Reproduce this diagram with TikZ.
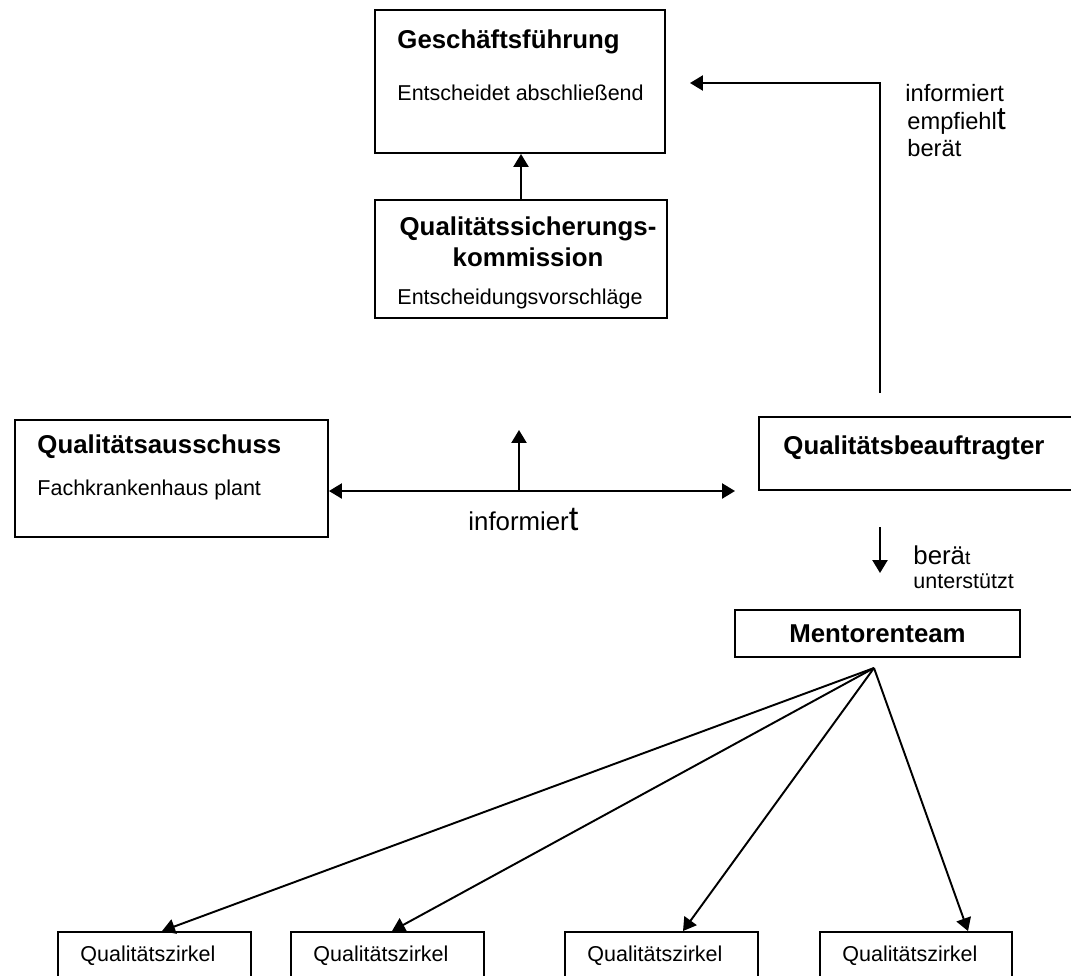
\documentclass[tikz,border=0pt]{standalone}
\usepackage{fontspec}
\setmainfont{Liberation Sans}
\usetikzlibrary{arrows.meta,fit}

\begin{document}
\begin{tikzpicture}
	[x=0.465pt,y=-0.465pt,
	 box/.style={draw,line width=0.9pt,inner sep=0pt},
	 head/.style={font=\fontsize{12}{14.4}\selectfont\bfseries,inner sep=0pt},
	 txt/.style={font=\fontsize{10}{12}\selectfont,inner sep=0pt,anchor=base west},
	 lbl/.style={font=\fontsize{11}{13}\selectfont,inner sep=0pt,anchor=base west},
	 arr/.style={line width=0.9pt,-{Triangle[length=6pt,width=7pt]}},
	 darr/.style={line width=0.9pt,{Triangle[length=6pt,width=7pt]}-{Triangle[length=6pt,width=7pt]}}]
\useasboundingbox (0,0) rectangle (1071,975);
% Leitung
\node[box,fit={(375,10) (665,153)}] (gf) {};
\node[head,anchor=base west] (gfh) at (397,48) {Geschäftsführung};
\node[txt] (gft) at (397,100) {Entscheidet abschließend};
\node[box,fit={(375,200) (667,318)}] (qsk) {};
\node[head,align=center,anchor=north] (qskh) at (528,216) {Qualitätssicherungs-\\kommission};
\node[txt] (qskt) at (397,304) {Entscheidungsvorschläge};
\draw[arr] (qsk.north) -- (qsk.north |- gf.south);
% Beauftragter
\node[box,fit={(759,417) (1075,490)}] (qb) {};
\node[head,anchor=base west] (qbh) at (783,454) {Qualitätsbeauftragter};
\coordinate (qbup) at (880,393);
\coordinate (gfin) at (690,83);
\draw[arr] (qbup) |- (gfin);
\node[lbl] (inf1) at (905,101) {informiert};
\node[lbl] (empf) at (907,129) {empfiehl{\fontsize{15}{15}\selectfont t}};
\node[lbl] (ber1) at (907,156) {berät};
% Ausschuss
\node[box,fit={(15,420) (328,537)}] (qa) {};
\node[head,anchor=base west] (qah) at (37,453) {Qualitätsausschuss};
\node[txt] (qat) at (37,495) {Fachkrankenhaus plant};
\coordinate (infr) at (735,491);
\coordinate (infm) at (519,491);
\coordinate (infup) at (519,430);
\draw[darr] (qa.east |- infm) -- (infr);
\draw[arr] (infm) -- (infup);
\node[lbl,font=\fontsize{12}{14}\selectfont] (inf2) at (468,530) {informier{\fontsize{16}{16}\selectfont t}};
% Mentorenteam
\coordinate (qbdown) at (880,527);
\coordinate (mtin) at (880,573);
\draw[arr] (qbdown) -- (mtin);
\node[lbl,font=\fontsize{12}{14}\selectfont] (ber2) at (913,564) {berä{\fontsize{9}{9}\selectfont t}};
\node[lbl,font=\fontsize{10}{12}\selectfont] (unt) at (913,588) {unterstützt};
\node[box,fit={(735,610) (1020,657)}] (mt) {};
\node[head] (mth) at (mt) {Mentorenteam};
\coordinate (mtfoot) at (874,668);
% Zirkel
\foreach \i/\xl/\xr/\tip in {1/58/251/162,2/291/484/392,3/565/758/683,4/820/1012/968}
{
\node[box,fit={(\xl,932) (\xr,995)}] (qz\i) {};
\node[txt] (qzt\i) at (\xl+22,961) {Qualitätszirkel};
\draw[arr] (mtfoot) -- (qz\i.north -| \tip,0);
}
\end{tikzpicture}
\end{document}
